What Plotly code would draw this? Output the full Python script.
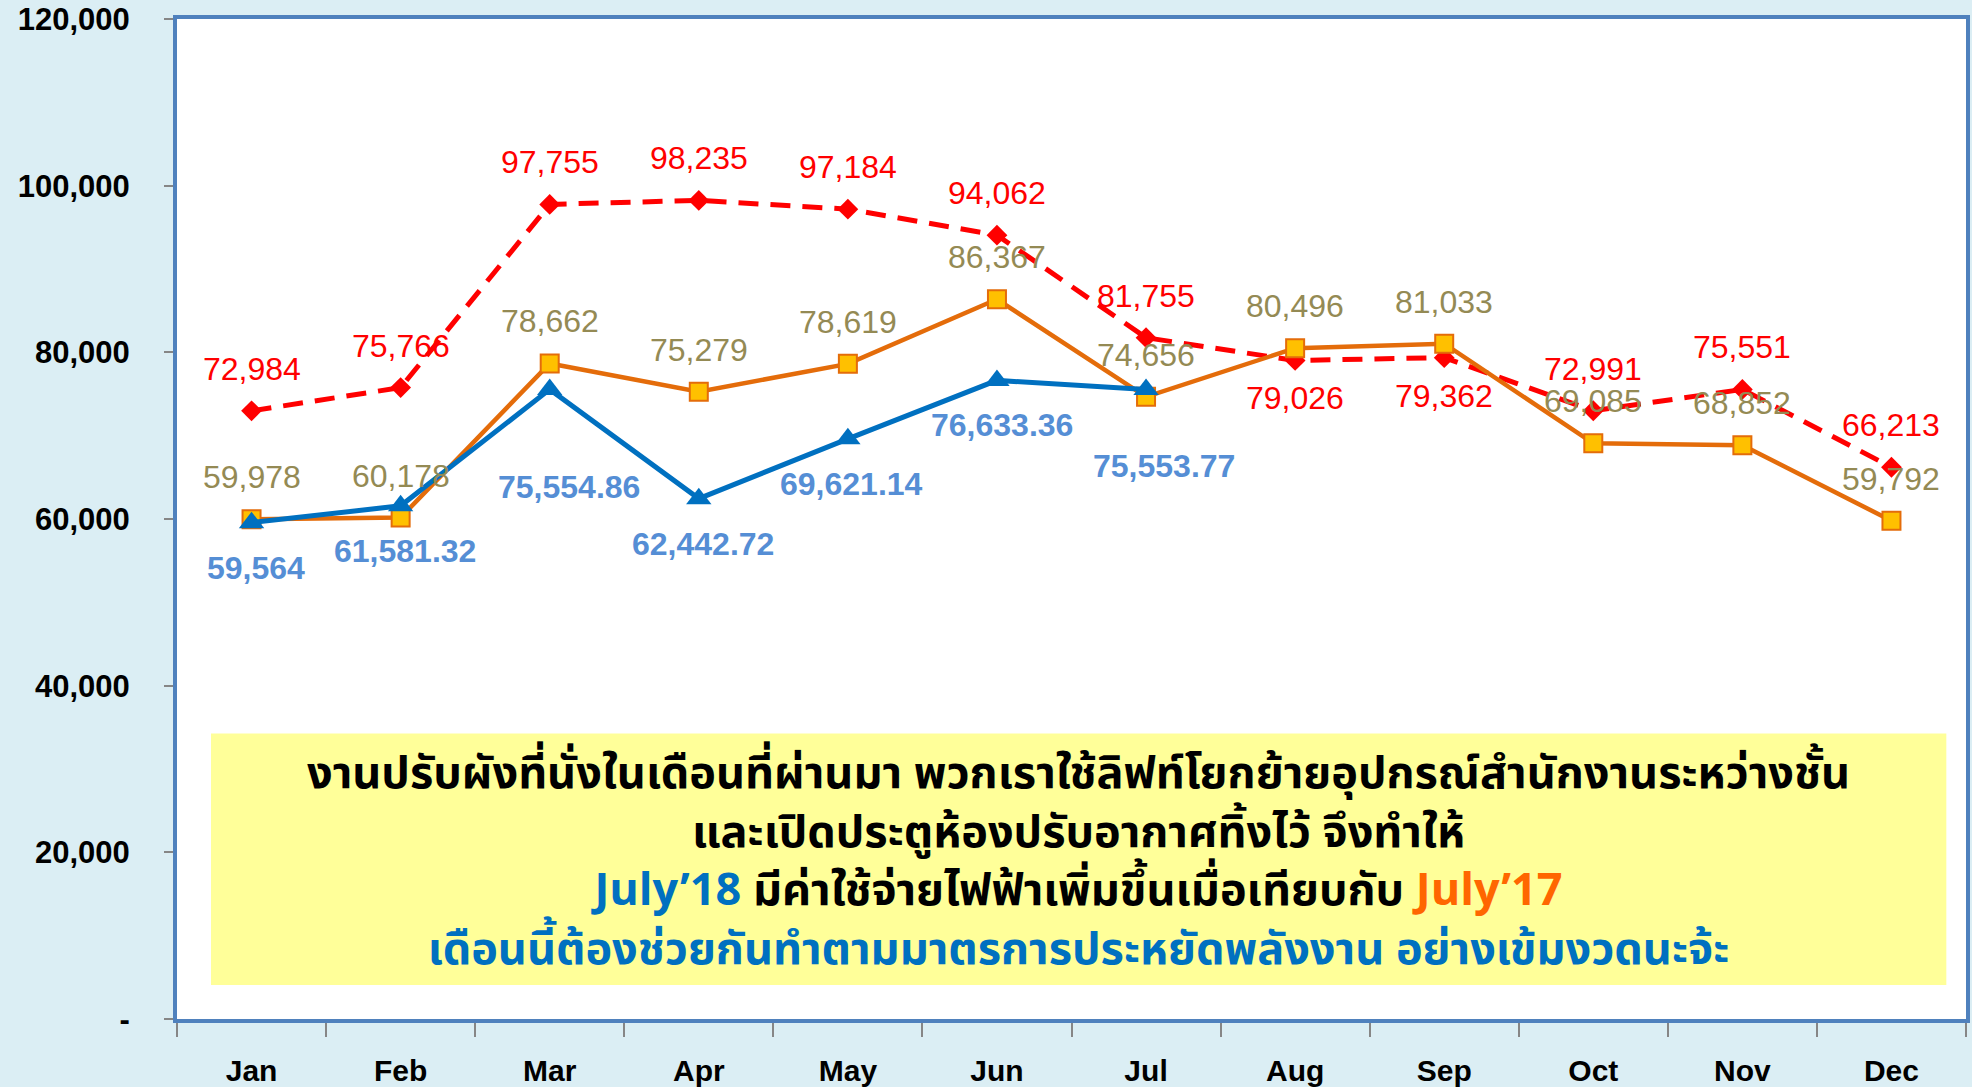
import plotly.graph_objects as go

months = ["Jan", "Feb", "Mar", "Apr", "May", "Jun", "Jul", "Aug", "Sep", "Oct", "Nov", "Dec"]
y2016 = [72984, 75766, 97755, 98235, 97184, 94062, 81755, 79026, 79362, 72991, 75551, 66213]
y2017 = [59978, 60178, 78662, 75279, 78619, 86367, 74656, 80496, 81033, 69085, 68852, 59792]
y2018 = [59564, 61581.32, 75554.86, 62442.72, 69621.14, 76633.36, 75553.77]
y_tickvals = [0, 20000, 40000, 60000, 80000, 100000, 120000]
y_ticktext = ["-", "20,000", "40,000", "60,000", "80,000", "100,000", "120,000"]

RED = "#FF0000"
ORANGE = "#E46C0A"
YELLOW = "#FFC000"
BLUE = "#0070C0"
OLIVE = "#948A54"
LBLUE = "#558ED5"
NUMFONT = "Liberation Sans, Arial, sans-serif"
THAI = "Noto Sans Thai, Tahoma, Leelawadee UI, sans-serif"

fig = go.Figure()
fig.add_trace(go.Scatter(x=months, y=y2016, mode="lines+markers",
                         line=dict(color=RED, width=5, dash="20px,12px"),
                         marker=dict(symbol="diamond", size=16, color=RED)))
fig.add_trace(go.Scatter(x=months, y=y2017, mode="lines+markers",
                         line=dict(color=ORANGE, width=4.5),
                         marker=dict(symbol="square", size=18, color=YELLOW,
                                     line=dict(color=ORANGE, width=2))))
fig.add_trace(go.Scatter(x=months[:len(y2018)], y=y2018, mode="lines+markers",
                         line=dict(color=BLUE, width=5),
                         marker=dict(symbol="triangle-up", size=22, color=BLUE)))

ann = []
red_below = {"Aug", "Sep"}
for m, v in zip(months, y2016):
    ann.append(dict(x=m, y=v, text=f"{v:,.0f}", showarrow=False,
                    yshift=-38 if m in red_below else 42,
                    font=dict(family=NUMFONT, size=32, color=RED)))
for m, v in zip(months, y2017):
    ann.append(dict(x=m, y=v, text=f"{v:,.0f}", showarrow=False, yshift=42,
                    font=dict(family=NUMFONT, size=32, color=OLIVE)))
blue_shift = {"Mar": (19, -98), "Jul": (18, -77), "Jun": (5, -45)}
for m, v in zip(months, y2018):
    txt = f"{v:,.0f}" if float(v).is_integer() else f"{v:,.2f}"
    xs, ys = blue_shift.get(m, (4, -45))
    ann.append(dict(x=m, y=v, text=f"<b>{txt}</b>", showarrow=False, xshift=xs, yshift=ys,
                    font=dict(family=NUMFONT, size=32, color=LBLUE)))

box_text = ("<b>งานปรับผังที่นั่งในเดือนที่ผ่านมา พวกเราใช้ลิฟท์โยกย้ายอุปกรณ์สำนักงานระหว่างชั้น<br>"
            "และเปิดประตูห้องปรับอากาศทิ้งไว้ จึงทำให้<br>"
            f"<span style='color:{BLUE}'>July’18</span> มีค่าใช้จ่ายไฟฟ้าเพิ่มขึ้นเมื่อเทียบกับ "
            "<span style='color:#FF6600'>July’17</span><br>"
            f"<span style='color:{BLUE}'>เดือนนี้ต้องช่วยกันทำตามมาตรการประหยัดพลังงาน อย่างเข้มงวดนะจ้ะ</span></b>")
ann.append(dict(xref="paper", yref="paper", x=0.504, y=0.157, text=box_text, showarrow=False,
                align="center", xanchor="center", yanchor="middle",
                font=dict(family=THAI, size=45, color="black")))

fig.update_layout(
    width=1972, height=1087,
    paper_bgcolor="#DBEEF4", plot_bgcolor="white",
    margin=dict(l=177, r=6, t=19, b=68),
    showlegend=False,
    annotations=ann,
    shapes=[dict(type="rect", xref="paper", yref="paper", x0=0.019, x1=0.989, y0=0.034, y1=0.2855,
                 fillcolor="#FFFF99", line=dict(width=0), layer="below")],
)
fig.update_xaxes(type="category", range=[-0.5, 11.5], showline=True, linecolor="#4F81BD", linewidth=4,
                 mirror=True, ticks="outside", tickson="boundaries", ticklen=14, tickcolor="#868686",
                 tickwidth=2, showgrid=False, ticklabelstandoff=22, automargin=False,
                 tickfont=dict(family=NUMFONT, size=30, color="black", weight="bold"))
fig.update_yaxes(range=[0, 120000], tickvals=y_tickvals, ticktext=y_ticktext, showline=True,
                 linecolor="#4F81BD", linewidth=4, mirror=True, ticks="outside", ticklen=9,
                 tickcolor="#868686", tickwidth=2, showgrid=False, zeroline=False, ticklabelstandoff=28,
                 automargin=False,
                 tickfont=dict(family=NUMFONT, size=31, color="black", weight="bold"))

fig.write_html("out.html", config={"displayModeBar": False},
               post_script="document.body.style.margin='0';document.body.style.background='#DBEEF4';")
